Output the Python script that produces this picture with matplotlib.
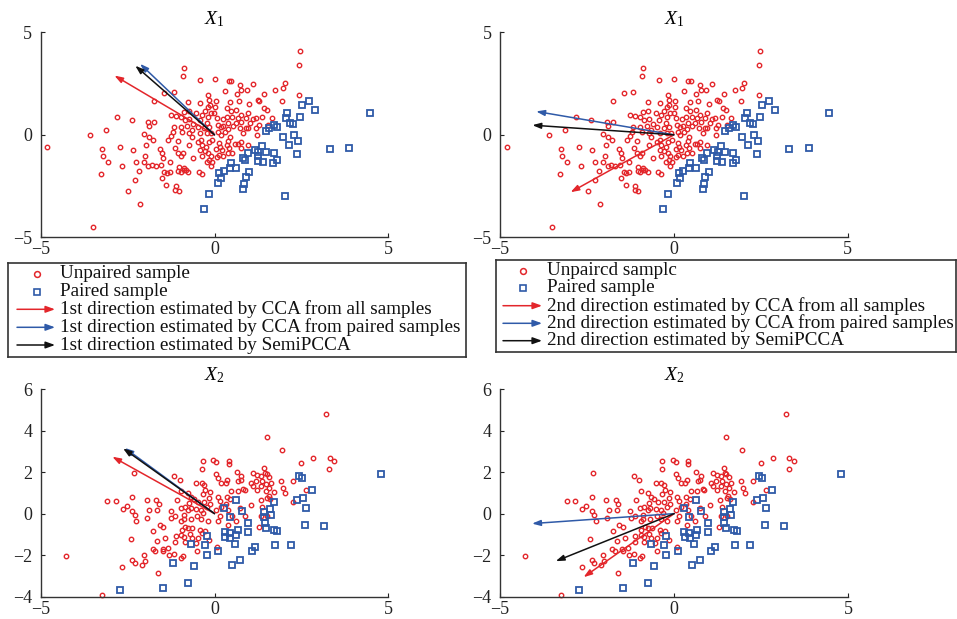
import numpy as np
import matplotlib
matplotlib.use("Agg")
import matplotlib.pyplot as plt

plt.rcParams['font.family'] = ['Liberation Serif', 'DejaVu Serif']
plt.rcParams['mathtext.fontset'] = 'custom'
plt.rcParams['mathtext.rm'] = 'Liberation Serif'
plt.rcParams['mathtext.it'] = 'Liberation Serif:italic'

# ---------------- data ----------------
x1_unpaired_x = [
    -4.81, -3.59, -3.50, -3.13, -2.81, -2.38, -3.25, -3.22, -3.06, -3.26,
    -2.72, -2.66, -2.34, -2.28, -2.48, -2.13, -2.27, -2.16, -2.04, -1.89,
    -1.75, -1.91, -1.88, -1.96, -1.78, -1.99, -2.03, -1.90, -1.81, -1.69,
    -1.55, -1.58, -1.52, -1.48, -1.44, -1.38, -1.51, -1.39, -1.29, -1.29,
    -1.75, -1.44, -1.17, -1.35, -1.25, -1.17, -1.19, -1.12, -1.26, -1.06,
    -1.14, -1.05, -0.97, -0.92, -1.02, -1.04, -0.96, -1.12, -1.13, -1.03,
    -0.88, -0.88, -0.82, -0.75, -0.91, -0.88, -0.75, -0.74, -0.88, -0.97,
    -0.85, -0.72, -0.78, -0.96, -0.93, -0.72, -0.66, -0.61, -0.65, -0.72,
    -0.61, -0.42, -0.41, -0.52, -0.43, -0.48, -0.41, -0.48, -0.39, -0.36,
    -0.41, -0.36, -0.46, -0.36, -0.28, -0.18, -0.15, -0.20, -0.13, -0.27,
    -0.37, -0.11, -0.20, -0.23, -0.29, -0.15, -0.21, -0.09, -0.06, -0.16,
    -0.24, -0.18, -0.11, -0.15, -0.06, -0.23, -0.11, 0.00, 0.03, 0.02,
    -0.01, 0.07, 0.10, 0.18, 0.11, 0.24, 0.25, 0.18, 0.13, 0.15,
    0.05, 0.21, 0.13, 0.25, 0.07, 0.30, 0.41, 0.48, 0.46, 0.35,
    0.47, 0.36, 0.51, 0.40, 0.52, 0.38, 0.30, 0.45, 0.40, 0.35,
    0.43, 0.51, 0.38, 0.60, 0.65, 0.74, 0.77, 0.93, 1.11, 0.70,
    0.63, 0.75, 0.68, 0.62, 0.77, 0.90, 0.95, 1.00, 0.72, 0.90,
    0.83, 0.96, 1.03, 1.10, 0.76, 0.95, 0.67, 0.76, 1.19, 1.27,
    1.20, 1.22, 1.25, 1.43, 1.29, 1.41, 1.50, 1.38, 1.54, 1.65,
    1.75, 1.96, 2.03, 1.94, 2.47, 2.44, 2.44]
x1_unpaired_y = [
    -0.60, 0.00, -4.49, 0.24, 0.85, 0.70, -0.67, -1.02, -1.32, -1.90,
    -0.60, -1.50, -0.72, -2.20, -2.72, -3.37, -1.32, -1.76, 0.03, 0.41,
    0.60, 0.60, -0.10, -0.50, -0.24, -1.02, -1.32, -1.53, -1.45, -1.51,
    -1.45, -0.67, -0.91, -1.14, -1.82, -1.87, -2.13, -2.46, -1.32, -1.82,
    1.67, 2.02, 2.08, -0.24, -0.08, 0.39, 0.13, 0.94, 0.98, -0.28,
    -0.63, -0.91, -1.01, -0.88, -1.59, -1.77, -1.80, -2.49, -2.70, -2.76,
    -1.74, -1.63, -1.74, -1.82, 2.89, 3.27, 1.58, 1.17, 1.09, 0.89,
    0.72, 0.76, 0.41, 0.36, 0.16, 0.10, 0.24, 0.54, -0.13, -0.50,
    -1.15, 2.65, 1.54, 1.07, 0.73, 0.39, 0.10, -0.34, -0.26, -0.49,
    -0.76, -1.02, -1.80, -1.90, -0.80, 1.93, 1.71, 1.35, 1.45, 1.14,
    0.96, 1.07, 0.89, 0.59, 0.34, 0.37, 0.11, 0.07, -0.24, -0.33,
    -0.59, -0.88, -1.04, -1.22, -1.33, -1.33, -1.51, 2.72, 1.67, 1.37,
    1.06, 0.80, 0.50, 0.36, 0.13, 0.76, 0.44, 0.00, -0.39, -0.59,
    -0.70, -0.75, -0.99, -1.01, -1.09, 2.16, 2.62, 2.62, 1.61, 1.33,
    1.15, 0.85, 0.85, 0.59, 0.41, 0.29, 0.16, -0.10, -0.31, -0.50,
    -0.65, -0.89, -0.91, -0.44, 1.98, 2.42, 2.20, 2.20, 2.47, 1.63,
    1.22, 0.96, 0.83, 0.59, 0.62, 0.81, 1.07, 1.50, 0.33, 0.34,
    0.10, 0.34, 0.59, 0.75, -0.37, -0.50, -0.44, -0.65, 0.81, 0.46,
    0.31, -0.02, 1.72, 1.98, 1.64, 1.33, 1.19, 0.89, 0.46, 0.83,
    2.20, 2.28, 2.52, 1.66, 4.11, 3.40, 1.95]

x1_paired_x = [
    -0.31, -0.16, 0.09, 0.14, 0.18, 0.26, 0.47, 0.45, 0.63, 0.83,
    0.86, 0.90, 1.00, 0.81, 0.88, 0.95, 1.16, 1.24, 1.24, 1.37,
    1.39, 1.48, 1.26, 1.69, 1.71, 1.80, 2.03, 1.48, 1.58, 1.71,
    1.80, 1.96, 2.13, 2.30, 2.41, 2.38, 2.05, 2.09, 2.18, 2.27,
    2.47, 2.53, 2.73, 2.90, 3.31, 3.88, 4.46]
x1_paired_y = [
    -3.63, -2.89, -2.33, -1.84, -2.11, -1.77, -1.40, -1.61, -1.63, -2.65,
    -2.41, -2.05, -1.82, -1.12, -1.25, -0.91, -0.73, -1.01, -1.27, -0.57,
    -1.35, -0.86, -0.86, -1.38, -0.91, -1.22, -2.98, 0.20, 0.31, 0.49,
    0.37, -0.13, -0.52, 0.00, -0.29, -0.93, 0.81, 1.06, 0.57, 0.54,
    0.89, 1.45, 1.66, 1.22, -0.70, -0.65, 1.04]

x2_unpaired_x = [
    -4.27, -3.25, -3.08, -2.84, -2.66, -2.41, -2.32, -2.52, -2.64, -2.36,
    -2.36, -2.29, -2.25, -2.36, -2.29, -2.09, -2.01, -2.03, -1.95, -1.88,
    -1.93, -1.76, -1.78, -1.68, -1.61, -1.64, -1.57, -1.64, -1.71, -1.62,
    -1.48, -1.49, -1.42, -1.33, -1.48, -1.30, -1.16, -1.26, -1.24, -1.13,
    -1.12, -1.13, -0.97, -0.92, -1.16, -1.00, -1.09, -0.96, -0.97, -0.88,
    -0.86, -0.96, -0.88, -0.84, -0.94, -0.96, -0.87, -0.86, -0.69, -0.75,
    -0.65, -0.71, -0.66, -0.75, -0.68, -0.75, -0.67, -0.59, -0.72, -0.53,
    -0.52, -0.47, -0.49, -0.42, -0.48, -0.54, -0.50, -0.37, -0.34, -0.36,
    -0.29, -0.34, -0.26, -0.29, -0.39, -0.21, -0.32, -0.38, -0.20, -0.26,
    -0.37, -0.16, -0.13, -0.16, -0.12, -0.04, 0.04, 0.05, 0.07, 0.11,
    0.19, 0.09, 0.15, 0.05, 0.19, 0.15, 0.09, 0.32, 0.37, 0.41,
    0.41, 0.47, 0.35, 0.45, 0.34, 0.40, 0.49, 0.38, 0.61, 0.64,
    0.69, 0.67, 0.77, 0.75, 0.82, 0.87, 0.73, 0.88, 1.06, 1.04,
    1.12, 1.22, 1.20, 1.12, 1.23, 1.28, 1.35, 1.42, 1.45, 1.50,
    1.38, 1.35, 1.50, 1.48, 1.47, 1.58, 1.62, 1.58, 1.56, 1.52,
    1.33, 1.38, 1.60, 1.51, 1.34, 1.72, 1.95, 1.92, 1.98, 2.03,
    2.26, 2.26, 2.49, 2.64, 2.83, 3.22, 3.31, 3.30, 3.43]
x2_unpaired_y = [
    -2.04, -3.93, 0.61, 0.61, -2.58, -1.22, 1.94, 0.35, 0.24, 0.79,
    0.11, -0.06, -0.37, -2.21, -2.40, -2.45, -2.26, -1.99, 0.66, 0.16,
    -0.21, -0.85, -1.68, 0.64, 0.46, 0.16, -0.53, -1.33, -1.79, -2.85,
    -0.66, -1.68, -1.17, -1.67, -1.79, -1.99, -1.96, 0.11, -0.21, -0.10,
    -1.06, -1.39, -2.15, -2.04, 1.81, 1.63, 0.64, 1.07, 0.27, -0.05,
    0.30, -0.34, -0.26, -0.63, -0.79, -1.03, -1.14, -1.39, -0.27, -0.67,
    -0.71, -0.99, -1.15, 0.16, 0.27, 0.99, 0.79, 0.71, 0.50, 1.47,
    0.22, 0.54, -0.10, -0.77, -1.15, -1.43, -1.79, 1.47, 2.55, 2.16,
    1.36, 0.96, 1.12, 0.58, 0.18, 0.34, 0.03, -0.27, -0.37, -0.85,
    -0.93, -1.28, 1.03, 0.74, 0.46, 2.60, 2.48, 1.91, -1.59, 1.71,
    1.49, 0.80, 0.59, 0.19, 0.34, -0.10, -0.34, 1.49, 1.60, 2.53,
    2.40, 1.07, 0.80, 0.72, 0.45, 0.16, -0.11, -0.53, -0.37, 2.02,
    1.55, 1.07, 1.79, 1.62, 1.17, 1.14, 0.27, -0.11, 1.47, 0.40,
    1.94, 1.88, 1.55, 1.33, 1.14, -0.66, 1.79, 2.18, 1.94, 1.89,
    1.55, 1.31, 3.69, 1.43, 1.11, 1.75, 1.47, 1.23, 0.87, 0.75,
    0.64, 0.34, 0.71, -0.11, -0.11, 1.03, 3.06, 1.55, 1.23, 0.98,
    0.56, 1.59, 2.44, 1.14, 2.68, 4.82, 2.68, 2.13, 2.52]

x2_paired_x = [
    -2.72, -1.48, -1.19, -0.75, -0.59, -0.67, -0.28, -0.23, -0.22, 0.11,
    0.28, 0.29, 0.31, 0.44, 0.44, 0.46, 0.50, 0.58, 0.63, 0.63,
    0.67, 0.78, 0.74, 0.96, 0.96, 1.07, 1.17, 1.42, 1.43, 1.44,
    1.48, 1.61, 1.62, 1.70, 1.72, 1.81, 1.75, 2.19, 2.38, 2.43,
    2.51, 2.56, 2.63, 2.61, 2.81, 3.16, 4.78]
x2_paired_y = [
    -3.70, -3.56, -2.37, -3.33, -2.53, -1.47, -1.51, -1.97, -1.06, -1.79,
    0.27, -0.90, -1.14, -0.14, -0.93, -1.19, -2.48, -1.47, 0.64, -1.01,
    -0.77, 0.13, -2.21, -0.43, -0.88, -1.79, -1.62, 0.08, -0.14, -0.45,
    -0.71, 0.24, -0.08, 0.56, -0.79, -0.85, -1.49, -1.52, 0.64, 1.79,
    1.71, 0.74, 0.27, -0.53, 1.15, -0.61, 1.89]

# estimated direction vectors (arrow tips from origin)
dir_labels = ["CCA from all samples", "CCA from paired samples", "SemiPCCA"]
dir_colors = ["#e3262b", "#2f5aa8", "#111111"]
x1_first_dirs = [(-2.88, 2.89), (-2.14, 3.46), (-2.28, 3.37)]
x1_second_dirs = [(-2.97, -2.80), (-3.96, 1.14), (-4.07, 0.47)]
x2_first_dirs = [(-2.94, 2.74), (-2.58, 3.16), (-2.63, 3.14)]
x2_second_dirs = [(-2.60, -3.06), (-4.08, -0.48), (-3.40, -2.29)]

red = "#e3262b"
blue = "#2f5aa8"

W, H = 957, 619
fig = plt.figure(figsize=(W / 100, H / 100), dpi=100)


def px_axes(l, t, r, b):
    return fig.add_axes([l / W, (H - b) / H, (r - l) / W, (b - t) / H])


def style_axes(ax, ylim, yticks, title):
    ax.set_xlim(-5, 5)
    ax.set_ylim(*ylim)
    ax.set_xticks([-5, 0, 5])
    ax.set_yticks(yticks)
    for s in ("top", "right"):
        ax.spines[s].set_visible(False)
    for s in ("left", "bottom"):
        ax.spines[s].set_linewidth(1.0)
        ax.spines[s].set_color("#333333")
    ax.tick_params(direction="in", length=3, width=0.8, labelsize=13,
                   colors="#222222")
    ax.tick_params(axis="x", pad=3)
    ax.tick_params(axis="y", pad=6)
    ax.set_title(title, fontsize=14, pad=6)


def draw_panel(ax, ux, uy, px, py, dirs):
    ax.plot(ux, uy, linestyle="none", marker="o", ms=3.2, mfc="none",
            mec=red, mew=1.0, clip_on=False)
    ax.plot(px, py, linestyle="none", marker="s", ms=4.6, mfc="none",
            mec=blue, mew=1.3, clip_on=False)
    for (dx, dy), c in zip(dirs, dir_colors):
        ax.annotate("", xy=(dx, dy), xytext=(0, 0),
                    arrowprops=dict(arrowstyle="-|>,head_length=0.5,head_width=0.17",
                                    color=c, lw=1.1, mutation_scale=10,
                                    shrinkA=0, shrinkB=0))


ax1 = px_axes(40.7, 32.3, 388.3, 237.3)
style_axes(ax1, (-5, 5), [-5, 0, 5], "$X_1$")
draw_panel(ax1, x1_unpaired_x, x1_unpaired_y, x1_paired_x, x1_paired_y, x1_first_dirs)

ax2 = px_axes(500.0, 32.3, 847.7, 237.3)
style_axes(ax2, (-5, 5), [-5, 0, 5], "$X_1$")
draw_panel(ax2, x1_unpaired_x, x1_unpaired_y, x1_paired_x, x1_paired_y, x1_second_dirs)

ax3 = px_axes(40.7, 389.0, 388.3, 596.7)
style_axes(ax3, (-4, 6), [-4, -2, 0, 2, 4, 6], "$X_2$")
draw_panel(ax3, x2_unpaired_x, x2_unpaired_y, x2_paired_x, x2_paired_y, x2_first_dirs)

ax4 = px_axes(500.0, 389.0, 848.3, 596.7)
style_axes(ax4, (-4, 6), [-4, -2, 0, 2, 4, 6], "$X_2$")
draw_panel(ax4, x2_unpaired_x, x2_unpaired_y, x2_paired_x, x2_paired_y, x2_second_dirs)


# ---------------- legends ----------------
def draw_legend(l, t, r, b, labels, rows, marker_x, arrow_x0, arrow_x1, text_x):
    lg = px_axes(l, t, r, b)
    lg.set_xlim(0, r - l)
    lg.set_ylim(b - t, 0)
    lg.set_xticks([])
    lg.set_yticks([])
    for s in lg.spines.values():
        s.set_linewidth(1.2)
        s.set_color("#333333")
    lg.plot([marker_x], [rows[0]], linestyle="none", marker="o", ms=4.2,
            mfc="none", mec=red, mew=1.1)
    lg.plot([marker_x], [rows[1]], linestyle="none", marker="s", ms=5.0,
            mfc="none", mec=blue, mew=1.2)
    for yy, c in zip(rows[2:], dir_colors):
        lg.annotate("", xy=(arrow_x1, yy), xytext=(arrow_x0, yy),
                    arrowprops=dict(arrowstyle="-|>,head_length=0.55,head_width=0.2",
                                    color=c, lw=1.1, mutation_scale=10,
                                    shrinkA=0, shrinkB=0))
    for yy, txt in zip(rows, labels):
        lg.text(text_x, yy, txt, fontsize=13.75, va="center", ha="left",
                color="#111111")


left_labels = ["Unpaired sample", "Paired sample"] + \
    ["1st direction estimated by " + s for s in dir_labels]
right_labels = ["Unpaircd samplc", "Paired sample"] + \
    ["2nd direction estimated by " + s for s in dir_labels]

draw_legend(8, 263, 466, 357, left_labels, [11, 28.7, 46.3, 64.3, 82],
            29, 9, 47, 52)
draw_legend(496, 260, 955.5, 352, right_labels, [10.7, 27.7, 45.7, 63.3, 80.7],
            27, 7, 46, 51)

fig.savefig("out.png", dpi=100)
